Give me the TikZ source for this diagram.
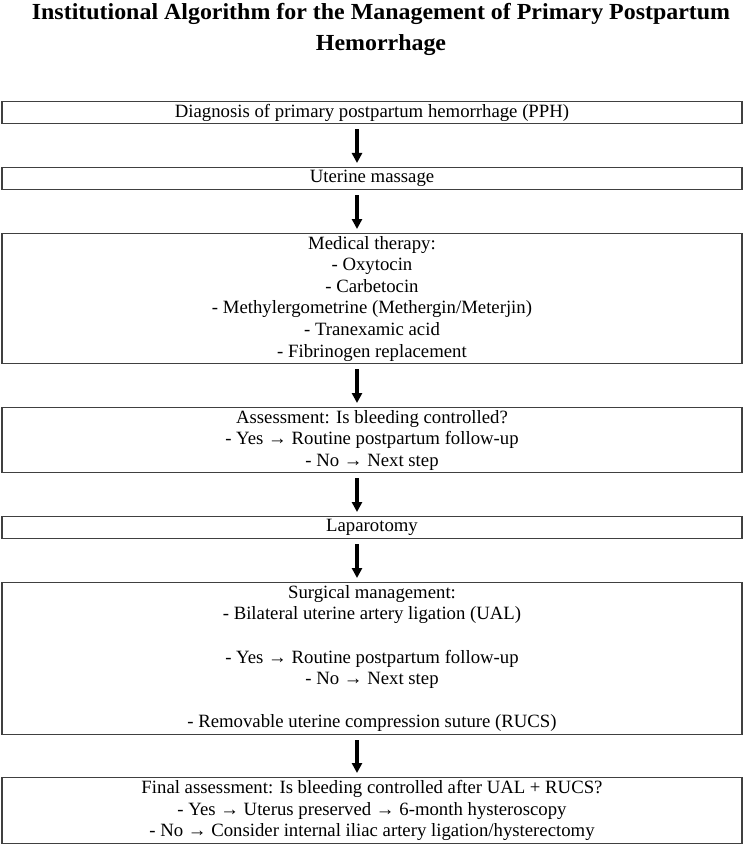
\documentclass[tikz,border=0pt]{standalone}
\usepackage{fontspec}
\setmainfont{Liberation Serif}
\newfontfamily\titlefont[FakeStretch=1.04]{Liberation Serif}
\usetikzlibrary{arrows.meta}
\tikzset{
  stepbox/.style={draw=black!75, line width=1.3pt, minimum width=740pt, inner sep=0pt,
    align=center, font=\fontsize{18.75}{21.6}\selectfont, anchor=north},
  arr/.style={line width=3.2pt, -{Triangle[width=10pt,length=10pt]}, shorten <=5pt, shorten >=4pt},
}
\begin{document}
\begin{tikzpicture}[x=1pt,y=1pt]
\useasboundingbox (0,0) rectangle (744,-845);
\node[font=\titlefont\bfseries\fontsize{23}{31.5}\selectfont, align=center] (title) at (381,-29.5)
  {Institutional Algorithm for the Management of Primary Postpartum\\Hemorrhage};
\node[stepbox, minimum height=22pt] (b1) at (372,-101) {Diagnosis of primary postpartum hemorrhage (PPH)};
\node[stepbox, minimum height=22pt] (b2) at (372,-167) {Uterine massage};
\node[stepbox, minimum height=130pt] (b3) at (372,-233) {Medical therapy:\\- Oxytocin\\- Carbetocin\\- Methylergometrine (Methergin/Meterjin)\\- Tranexamic acid\\- Fibrinogen replacement};
\node[stepbox, minimum height=65pt] (b4) at (372,-407) {Assessment: Is bleeding controlled?\\- Yes → Routine postpartum follow-up\\- No → Next step};
\node[stepbox, minimum height=22pt] (b5) at (372,-516) {Laparotomy};
\node[stepbox, minimum height=152pt] (b6) at (372,-582) {Surgical management:\\- Bilateral uterine artery ligation (UAL)\\[21.6pt]- Yes → Routine postpartum follow-up\\- No → Next step\\[21.6pt]- Removable uterine compression suture (RUCS)};
\node[stepbox, minimum height=66pt] (b7) at (372,-777) {Final assessment: Is bleeding controlled after UAL + RUCS?\\- Yes → Uterus preserved → 6-month hysteroscopy\\- No → Consider internal iliac artery ligation/hysterectomy};
\draw[arr] ([xshift=-15pt]b1.south) -- ([xshift=-15pt]b2.north);
\draw[arr] ([xshift=-15pt]b2.south) -- ([xshift=-15pt]b3.north);
\draw[arr] ([xshift=-15pt]b3.south) -- ([xshift=-15pt]b4.north);
\draw[arr] ([xshift=-15pt]b4.south) -- ([xshift=-15pt]b5.north);
\draw[arr] ([xshift=-15pt]b5.south) -- ([xshift=-15pt]b6.north);
\draw[arr] ([xshift=-15pt]b6.south) -- ([xshift=-15pt]b7.north);
\end{tikzpicture}
\end{document}
